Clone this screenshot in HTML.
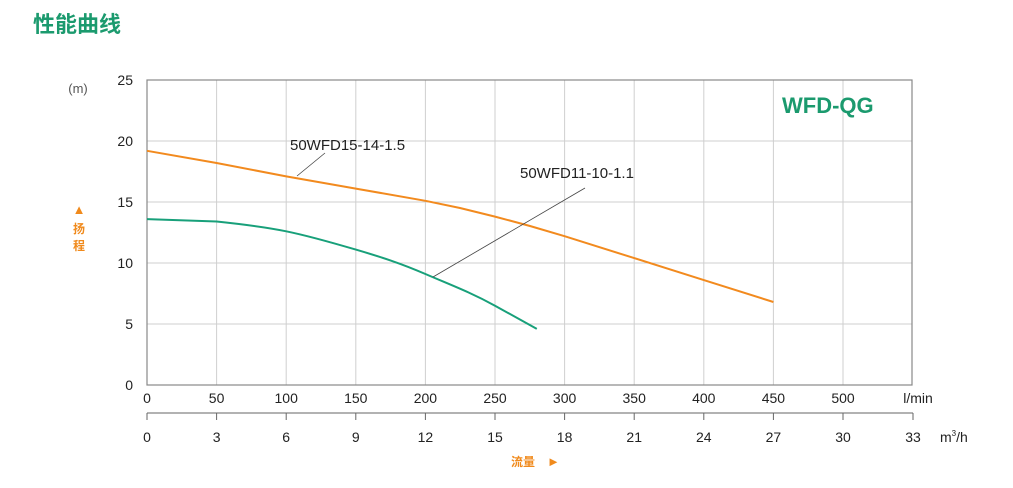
<!DOCTYPE html>
<html><head><meta charset="utf-8"><style>
body{margin:0;background:#fff;width:1013px;height:483px;overflow:hidden;font-family:"Liberation Sans","Noto Sans CJK SC",sans-serif}
</style></head><body>
<svg width="1013" height="483" xmlns="http://www.w3.org/2000/svg" font-family="Liberation Sans, Noto Sans CJK SC, sans-serif">
<text x="33" y="32" font-size="22" font-weight="bold" fill="#1b9a6e">性能曲线</text>
<g stroke="#cfcfcf" stroke-width="1">
<line x1="216.6" y1="80" x2="216.6" y2="385"/><line x1="286.2" y1="80" x2="286.2" y2="385"/><line x1="355.8" y1="80" x2="355.8" y2="385"/><line x1="425.4" y1="80" x2="425.4" y2="385"/><line x1="495" y1="80" x2="495" y2="385"/><line x1="564.6" y1="80" x2="564.6" y2="385"/><line x1="634.2" y1="80" x2="634.2" y2="385"/><line x1="703.8" y1="80" x2="703.8" y2="385"/><line x1="773.4" y1="80" x2="773.4" y2="385"/><line x1="843" y1="80" x2="843" y2="385"/>
<line x1="147" y1="141" x2="912" y2="141"/><line x1="147" y1="202" x2="912" y2="202"/><line x1="147" y1="263" x2="912" y2="263"/><line x1="147" y1="324" x2="912" y2="324"/>
</g>
<rect x="147" y="80" width="765" height="305" fill="none" stroke="#888" stroke-width="1.2"/>
<g font-size="14" fill="#222" text-anchor="end">
<text x="133" y="85">25</text><text x="133" y="146">20</text><text x="133" y="207">15</text><text x="133" y="268">10</text><text x="133" y="329">5</text><text x="133" y="390">0</text>
</g>
<text x="78" y="93" font-size="13" fill="#555" text-anchor="middle">(m)</text>
<text x="79" y="214" font-size="13" fill="#f08a1c" text-anchor="middle">▲</text>
<text x="79" y="233" font-size="12" font-weight="bold" fill="#f08a1c" text-anchor="middle">扬</text>
<text x="79" y="250" font-size="12" font-weight="bold" fill="#f08a1c" text-anchor="middle">程</text>
<g font-size="14" fill="#222" text-anchor="middle">
<text x="147" y="403">0</text><text x="216.6" y="403">50</text><text x="286.2" y="403">100</text><text x="355.8" y="403">150</text><text x="425.4" y="403">200</text><text x="495" y="403">250</text><text x="564.6" y="403">300</text><text x="634.2" y="403">350</text><text x="703.8" y="403">400</text><text x="773.4" y="403">450</text><text x="843" y="403">500</text><text x="918" y="403">l/min</text>
</g>
<line x1="147" y1="413" x2="913" y2="413" stroke="#666"/>
<g stroke="#666">
<line x1="147" y1="413" x2="147" y2="420"/><line x1="216.6" y1="413" x2="216.6" y2="420"/><line x1="286.2" y1="413" x2="286.2" y2="420"/><line x1="355.8" y1="413" x2="355.8" y2="420"/><line x1="425.4" y1="413" x2="425.4" y2="420"/><line x1="495" y1="413" x2="495" y2="420"/><line x1="564.6" y1="413" x2="564.6" y2="420"/><line x1="634.2" y1="413" x2="634.2" y2="420"/><line x1="703.8" y1="413" x2="703.8" y2="420"/><line x1="773.4" y1="413" x2="773.4" y2="420"/><line x1="843" y1="413" x2="843" y2="420"/><line x1="913" y1="413" x2="913" y2="420"/>
</g>
<g font-size="14" fill="#222" text-anchor="middle">
<text x="147" y="442">0</text><text x="216.6" y="442">3</text><text x="286.2" y="442">6</text><text x="355.8" y="442">9</text><text x="425.4" y="442">12</text><text x="495" y="442">15</text><text x="564.6" y="442">18</text><text x="634.2" y="442">21</text><text x="703.8" y="442">24</text><text x="773.4" y="442">27</text><text x="843" y="442">30</text><text x="913" y="442">33</text>
</g>
<text x="940" y="442" font-size="14" fill="#222">m<tspan font-size="8" dy="-6">3</tspan><tspan dy="6">/h</tspan></text>
<text x="511" y="466" font-size="12" font-weight="bold" fill="#f08a1c">流量</text>
<text x="547" y="466" font-size="13" fill="#f08a1c">►</text>
<text x="782" y="113" font-size="22" font-weight="bold" fill="#1b9a6e">WFD-QG</text>
<polyline points="147,150.8 216.6,163 286.2,176.4 355.8,188.6 425.4,200.8 460,208 495,216.6 530,226 564.6,236.2 634.2,258.1 703.8,280.1 773.4,302" fill="none" stroke="#f28a1e" stroke-width="2" stroke-linejoin="round"/>
<path d="M147,219.1 L216.6,221.5 C250,225 270,228 286.2,231.3 S330,242 355.8,249.6 S400,263 425.4,274 S470,292 495,305.7 L536.8,328.9" fill="none" stroke="#18a07a" stroke-width="2"/>
<line x1="297" y1="176" x2="325" y2="153" stroke="#444" stroke-width="0.8"/>
<text x="290" y="150" font-size="15" fill="#222">50WFD15-14-1.5</text>
<line x1="433" y1="277" x2="585" y2="188" stroke="#444" stroke-width="0.8"/>
<text x="520" y="178" font-size="15" fill="#222">50WFD11-10-1.1</text>
</svg>
</body></html>
